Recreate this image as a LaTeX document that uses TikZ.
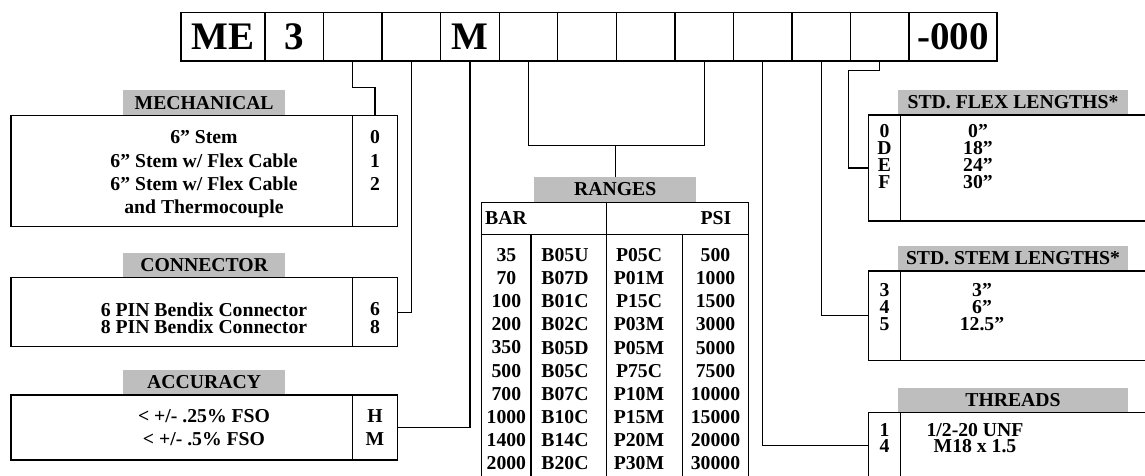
\documentclass[tikz,border=0pt]{standalone}
\usepackage{fontspec}
\setmainfont{Liberation Serif}
\usepackage{xcolor}
\usepackage{tikz}
\usetikzlibrary{calc}
\definecolor{headgray}{RGB}{190, 190, 190}

\begin{document}
\begin{tikzpicture}[
			x=1pt, y=-1pt,
			codebox/.style={rectangle, draw, line width=1.3pt, minimum height=48.5pt, minimum width=58.55pt, inner sep=0pt, font=\fontsize{39}{39}\selectfont\bfseries},
			cell/.style={rectangle, draw, line width=1.2pt, inner sep=0pt},
			head/.style={rectangle, fill=headgray, inner sep=0pt, font=\fontsize{19.7}{23.4}\selectfont\bfseries},
			rows/.style={inner sep=0pt, align=center, anchor=north, font=\fontsize{19.7}{23.4}\selectfont\bfseries},
			tightrows/.style={rows, font=\fontsize{19.7}{#1}\selectfont\bfseries},
			link/.style={line width=1.2pt}
		]
		\clip (0,0) rectangle (1145,475);
		
		% Part number boxes
		\node[codebox, minimum width=84pt] (b1) at (223,36.75) {ME};
		\node[codebox] (b2) at (294.3,36.75) {3};
		\node[codebox] (b3) at (352.8,36.75) {};
		\node[codebox] (b4) at (411.4,36.75) {};
		\node[codebox] (b5) at (469.9,36.75) {M};
		\node[codebox] (b6) at (528.5,36.75) {};
		\node[codebox] (b7) at (587.0,36.75) {};
		\node[codebox] (b8) at (645.6,36.75) {};
		\node[codebox] (b9) at (704.1,36.75) {};
		\node[codebox] (b10) at (762.7,36.75) {};
		\node[codebox] (b11) at (821.2,36.75) {};
		\node[codebox] (b12) at (879.8,36.75) {};
		\node[codebox, minimum width=88pt] (b13) at (953,36.75) {-000};
		
		% Table titles
		\node[head, minimum width=161.7pt, minimum height=25.7pt] (mechhead) at (204.15,102.85) {MECHANICAL};
		\node[head, minimum width=161.7pt, minimum height=25pt] (connhead) at (204.15,265.2) {CONNECTOR};
		\node[head, minimum width=161.7pt, minimum height=25pt] (acchead) at (204.15,382.5) {ACCURACY};
		\node[head, minimum width=161.7pt, minimum height=24.7pt] (rangehead) at (615.2,189.4) {RANGES};
		\node[head, minimum width=229.4pt, minimum height=25pt] (flexhead) at (1013,102.5) {STD. FLEX LENGTHS*};
		\node[head, minimum width=229.4pt, minimum height=25pt] (stemhead) at (1013,258.5) {STD. STEM LENGTHS*};
		\node[head, minimum width=229.4pt, minimum height=24.4pt] (thrhead) at (1013,400.5) {THREADS};
		
		% Left tables
		\node[cell, minimum width=341.7pt, minimum height=111pt] (mechdesc) at (181.85,171.2) {};
		\node[cell, minimum width=44.6pt, minimum height=111pt] (mechcode) at (375,171.2) {};
		\node[cell, minimum width=341.7pt, minimum height=69pt] (conndesc) at (181.85,312.2) {};
		\node[cell, minimum width=44.6pt, minimum height=69pt] (conncode) at (375,312.2) {};
		\node[cell, minimum width=341.7pt, minimum height=65pt] (accdesc) at (181.85,427.5) {};
		\node[cell, minimum width=44.6pt, minimum height=65pt] (acccode) at (375,427.5) {};
		
		\node[rows] (mechtext) at (204,130.3) {6” Stem\\6” Stem w/ Flex Cable\\6” Stem w/ Flex Cable\\and Thermocouple};
		\node[rows] (mechkeys) at (375,130.3) {0\\1\\2};
		\node[tightrows=17.5] (conntext) at (204,302.4) {6 PIN Bendix Connector\\8 PIN Bendix Connector};
		\node[tightrows=17.5] (connkeys) at (375,302.4) {6\\8};
		\node[rows] (acctext) at (204,409) {< +/- .25\% FSO\\< +/- .5\% FSO};
		\node[rows] (acckeys) at (375,409) {H\\M};
		
		% Ranges table
		\node[cell, minimum width=125pt, minimum height=32.2pt] (rbar) at (544.2,218.4) {};
		\node[cell, minimum width=141.6pt, minimum height=32.2pt] (rpsi) at (677.5,218.4) {};
		\node[cell, minimum width=49.3pt, minimum height=245.5pt] (rc1) at (506.35,357.25) {};
		\node[cell, minimum width=75.7pt, minimum height=245.5pt] (rc2) at (568.85,357.25) {};
		\node[cell, minimum width=76pt, minimum height=245.5pt] (rc3) at (644.7,357.25) {};
		\node[cell, minimum width=65.6pt, minimum height=245.5pt] (rc4) at (715.5,357.25) {};
		\node[rows, anchor=west] (bartext) at (485,218.4) {BAR};
		\node[rows, anchor=east] (psitext) at (731.5,218.4) {PSI};
		\node[tightrows=23.1] (barvals) at (506.35,248.3) {35\\70\\100\\200\\350\\500\\700\\1000\\1400\\2000};
		\node[tightrows=23.1] (barcodes) at (565,248.3) {B05U\\B07D\\B01C\\B02C\\B05D\\B05C\\B07C\\B10C\\B14C\\B20C};
		\node[tightrows=23.1] (psicodes) at (639,248.3) {P05C\\P01M\\P15C\\P03M\\P05M\\P75C\\P10M\\P15M\\P20M\\P30M};
		\node[tightrows=23.1] (psivals) at (715.5,248.3) {500\\1000\\1500\\3000\\5000\\7500\\10000\\15000\\20000\\30000};
		
		% Right tables
		\node[cell, minimum width=32.4pt, minimum height=106pt] (flexcode) at (884.5,168) {};
		\node[cell, minimum width=259.3pt, minimum height=106pt] (flexval) at (1030.35,168) {};
		\node[cell, minimum width=32.4pt, minimum height=89.7pt] (stemcode) at (884.5,315.85) {};
		\node[cell, minimum width=259.3pt, minimum height=89.7pt] (stemval) at (1030.35,315.85) {};
		\node[cell, minimum width=32.4pt, minimum height=66pt] (thrcode) at (884.5,445.7) {};
		\node[cell, minimum width=259.3pt, minimum height=66pt] (thrval) at (1030.35,445.7) {};
		
		\node[tightrows=17] (flexkeys) at (884.5,124.5) {0\\D\\E\\F};
		\node[tightrows=17] (flextext) at (978,124.5) {0”\\18”\\24”\\30”};
		\node[tightrows=17] (stemkeys) at (884.5,283.4) {3\\4\\5};
		\node[tightrows=17] (stemtext) at (982,283.4) {3”\\6”\\12.5”};
		\node[tightrows=16.5] (thrkeys) at (884.5,423) {1\\4};
		\node[tightrows=16.5] (thrtext) at (975,423) {1/2-20 UNF\\M18 x 1.5};
		
		% Connectors from the part number
		\draw[link] (b3.south) -- ++(0,26) -| (mechcode.north);
		\draw[link] (b4.south) |- (conncode.east);
		\draw[link] (b5.south) |- (acccode.east);
		\draw[link] (b6.south) -- ++(0,84) coordinate (rangejoin) -| (b9.south);
		\draw[link] (rangejoin -| rangehead.north) -- (rangehead.north);
		\draw[link] (b10.south) |- (thrcode.west);
		\draw[link] (b11.south) |- (stemcode.west);
		\draw[link] (b12.south) -- ++(0,9) -- ++(-31.5,0) |- (flexcode.west);
		\end{tikzpicture}
\end{document}
